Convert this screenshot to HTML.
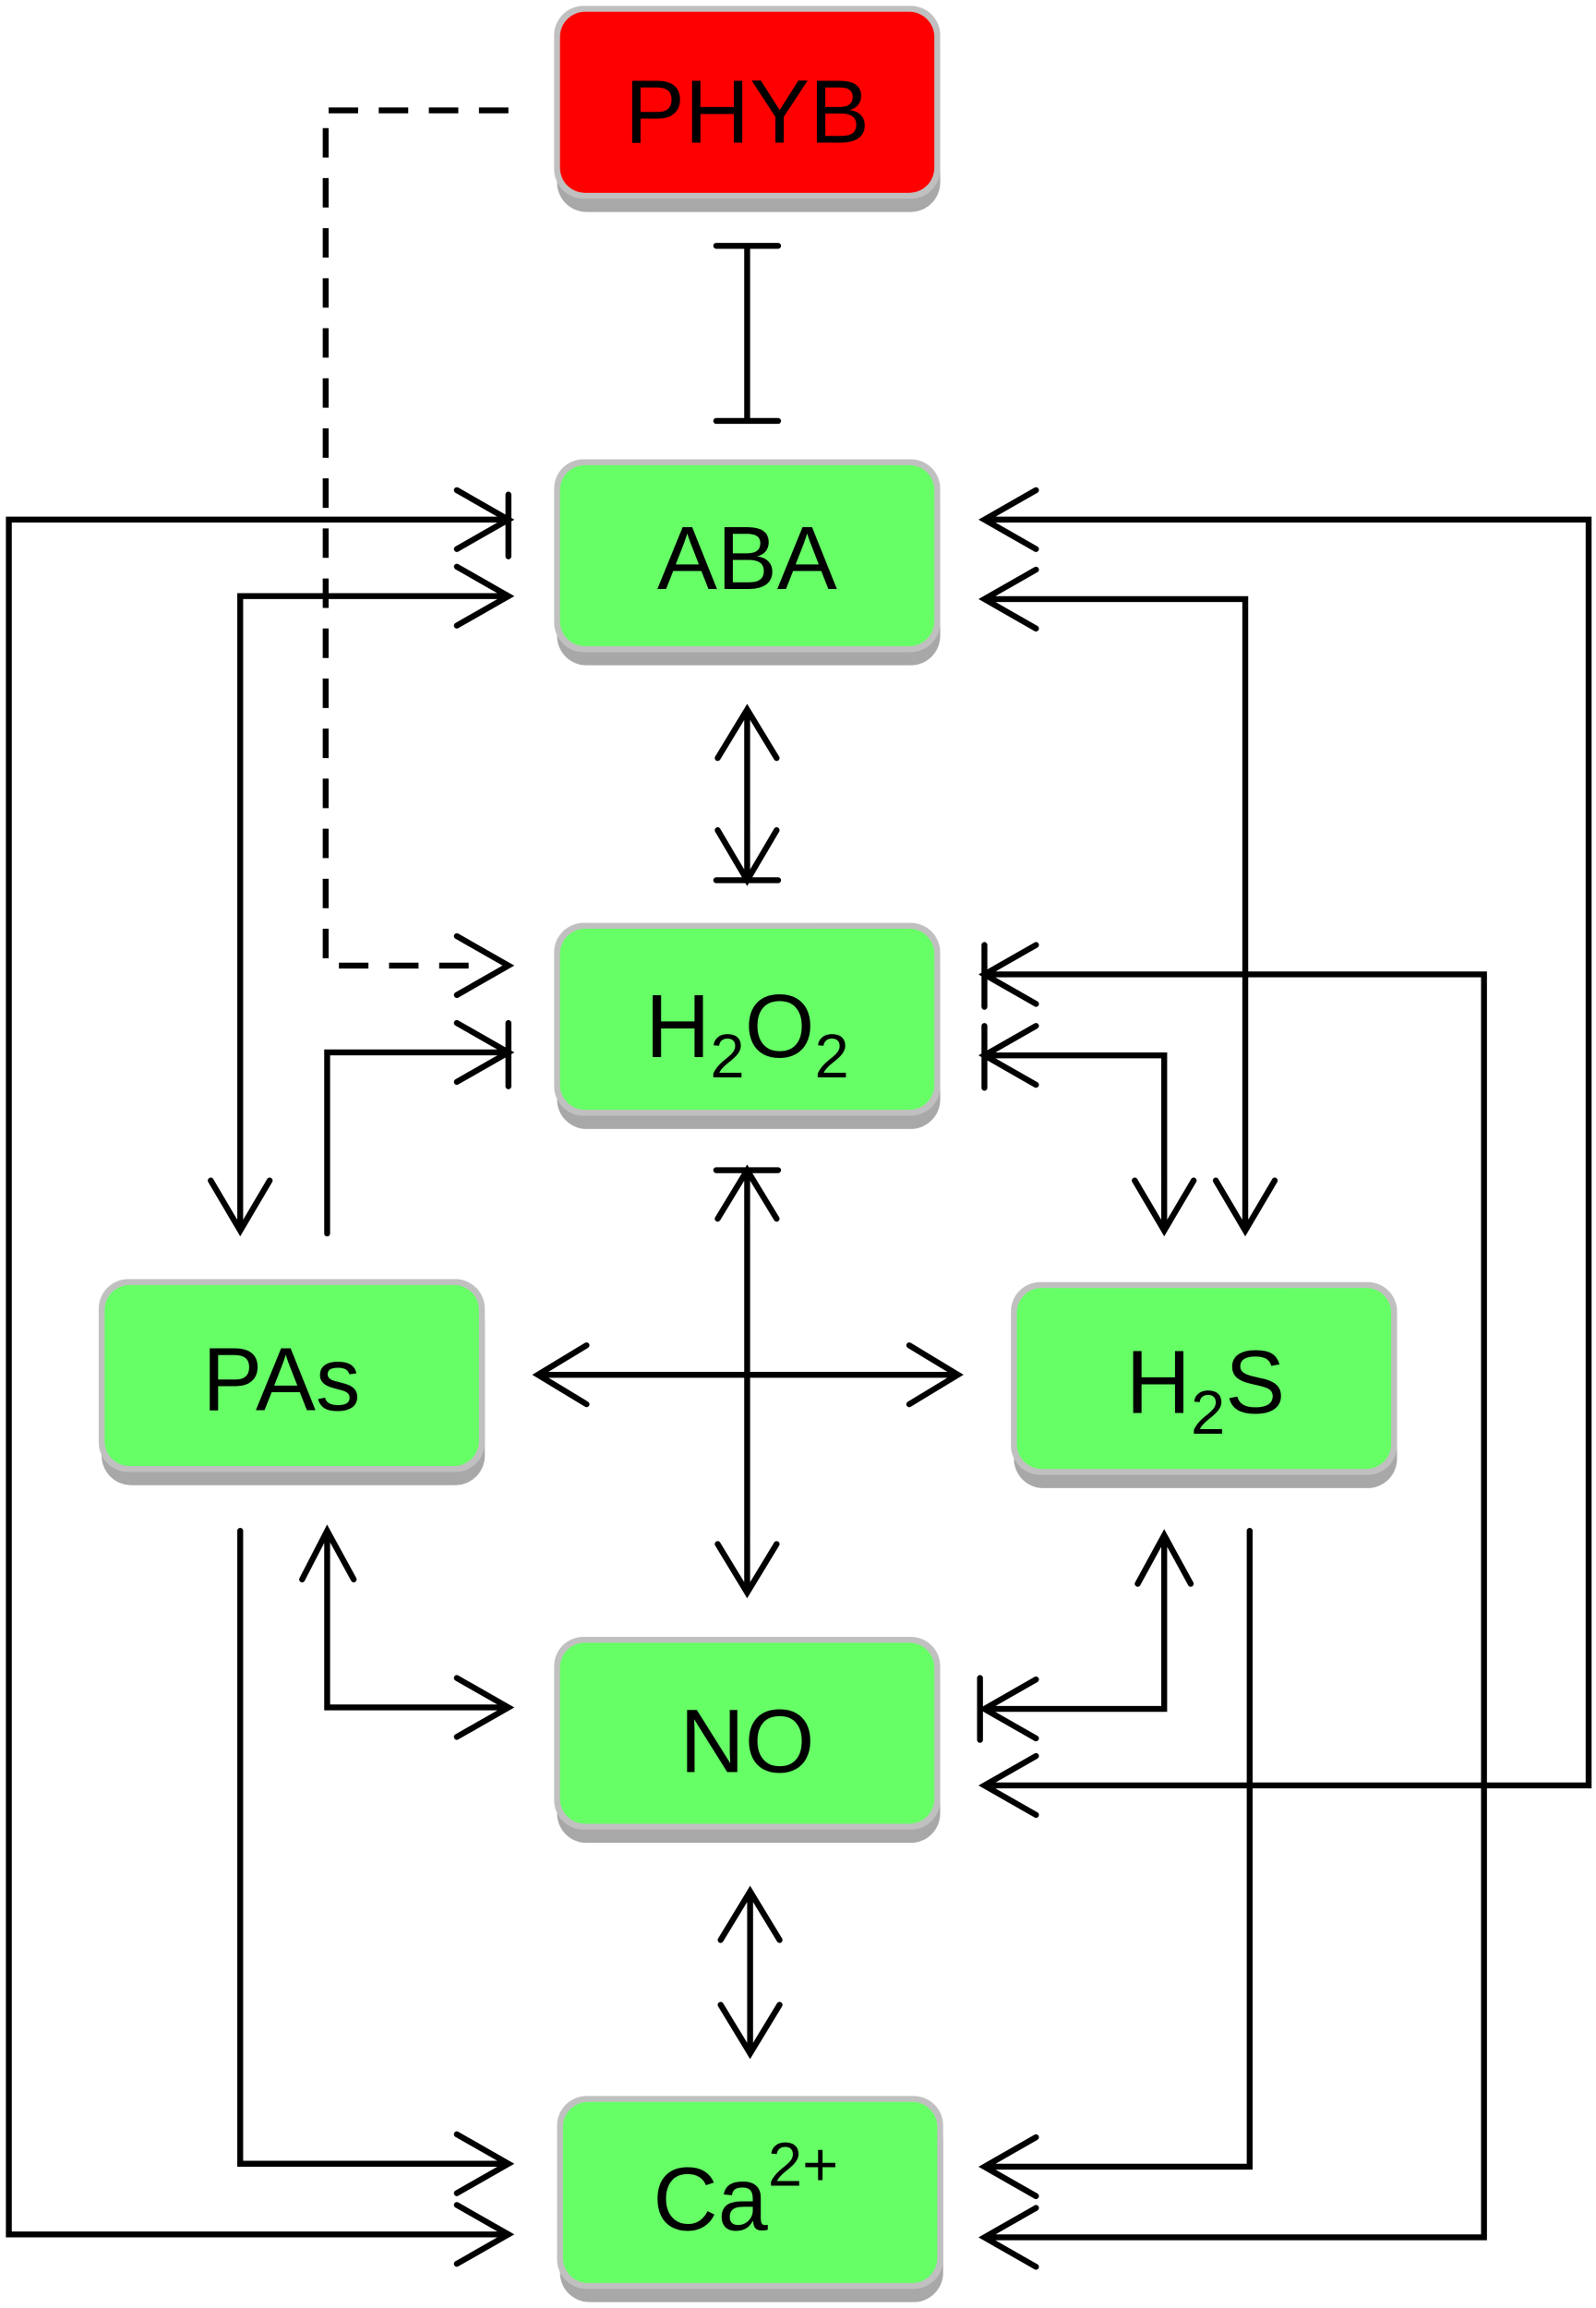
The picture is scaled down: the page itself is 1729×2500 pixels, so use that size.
<!DOCTYPE html>
<html><head><meta charset="utf-8"><style>
html,body{margin:0;padding:0;background:#fff;}
svg{display:block;}
text{font-family:"Liberation Sans",Arial,sans-serif;fill:#000;}
</style></head><body>
<svg width="1729" height="2500" viewBox="0 0 1083 1568" preserveAspectRatio="none" xmlns="http://www.w3.org/2000/svg">
<defs>
<g id="box"><rect x="2" y="10" width="260" height="130" rx="20" fill="#a8a8a8"/><rect x="0" y="0" width="262" height="131" rx="20" fill="#c0c0c0"/></g>
</defs>
<!-- boxes -->
<g transform="translate(376,4)"><use href="#box"/><rect x="4" y="4" width="254" height="123" rx="17" fill="#ff0000"/></g>
<g transform="translate(376,312)"><use href="#box"/><rect x="4" y="4" width="254" height="123" rx="17" fill="#66ff66"/></g>
<g transform="translate(376,627)"><use href="#box"/><rect x="4" y="4" width="254" height="123" rx="17" fill="#66ff66"/></g>
<g transform="translate(67,869)"><use href="#box"/><rect x="4" y="4" width="254" height="123" rx="17" fill="#66ff66"/></g>
<g transform="translate(686,871)"><use href="#box"/><rect x="4" y="4" width="254" height="123" rx="17" fill="#66ff66"/></g>
<g transform="translate(376,1112)"><use href="#box"/><rect x="4" y="4" width="254" height="123" rx="17" fill="#66ff66"/></g>
<g transform="translate(378,1424)"><use href="#box"/><rect x="4" y="4" width="254" height="123" rx="17" fill="#66ff66"/></g>
<!-- labels -->
<text x="507" y="97" font-size="61" text-anchor="middle">PHYB</text>
<text x="507" y="400" font-size="61" text-anchor="middle">ABA</text>
<text x="507" y="718" font-size="61" text-anchor="middle">H<tspan font-size="42" dy="14">2</tspan><tspan dy="-14">O</tspan><tspan font-size="42" dy="14">2</tspan></text>
<text x="191" y="958" font-size="61" text-anchor="middle">PAs</text>
<text x="818" y="960" font-size="61" text-anchor="middle">H<tspan font-size="42" dy="14">2</tspan><tspan dy="-14">S</tspan></text>
<text x="507" y="1204" font-size="61" text-anchor="middle">NO</text>
<text x="506" y="1515" font-size="61" text-anchor="middle">Ca<tspan font-size="42" dy="-30">2+</tspan></text>
<!-- connectors -->
<g fill="none" stroke="#000" stroke-width="4" stroke-linecap="round" stroke-linejoin="miter">
<path d="M345,75 H221 V656 H330" stroke-dasharray="20,14" stroke-linecap="butt"/>
<path d="M310,636 L345,656 L310,676"/>
<!-- PHYB-ABA inhibition -->
<path d="M507,167 V286 M486,167 H528 M486,286 H528"/>
<!-- left outer -->
<path d="M345,353 H6 V1518 H345"/>
<path d="M310,333 L345,353 L310,373 M345,336 V378"/>
<path d="M310,1498 L345,1518 L310,1538"/>
<!-- x=163 ABA to PAs -->
<path d="M345,405 H163 V835"/>
<path d="M310,385 L345,405 L310,425 M143,802 L163,836 L183,802"/>
<!-- ABA-H2O2 -->
<path d="M507,482 V598 M487,515 L507,482 L527,515 M487,564 L507,598 L527,564 M486,598 H528"/>
<!-- PAs -> H2O2 -->
<path d="M222,838 V715 H345 M310,695 L345,715 L310,735 M345,695 V738"/>
<!-- cross -->
<path d="M365,934 H650 M398,914 L365,934 L398,954 M617,914 L650,934 L617,954"/>
<path d="M507,795 V1082 M487,828 L507,795 L527,828 M486,795 H528 M487,1049 L507,1082 L527,1049"/>
<!-- PAs-NO -->
<path d="M222,1040 V1160 H345 M205,1073 L222,1040 L240,1073 M310,1140 L345,1160 L310,1180"/>
<!-- PAs-Ca -->
<path d="M163,1040 V1470 H345 M310,1450 L345,1470 L310,1490"/>
<!-- NO-Ca -->
<path d="M509,1285 V1395 M489,1318 L509,1285 L529,1318 M489,1362 L509,1395 L529,1362"/>
<!-- right outer ABA-NO -->
<path d="M668,353 H1078 V1213 H668 M703,333 L668,353 L703,373 M703,1193 L668,1213 L703,1233"/>
<!-- ABA-H2S -->
<path d="M668,407 H845 V835 M703,387 L668,407 L703,427 M825,802 L845,836 L865,802"/>
<!-- H2O2-Ca -->
<path d="M668,662 H1007 V1520 H668 M703,642 L668,662 L703,682 M668,642 V684 M703,1500 L668,1520 L703,1540"/>
<!-- H2O2-H2S -->
<path d="M668,717 H790 V835 M703,697 L668,717 L703,737 M668,697 V739 M770,802 L790,836 L810,802"/>
<!-- H2S-NO -->
<path d="M790,1043 V1161 H668 M772,1076 L790,1043 L808,1076 M703,1141 L668,1161 L703,1181 M665,1140 V1182"/>
<!-- H2S-Ca -->
<path d="M848,1040 V1472 H668 M703,1452 L668,1472 L703,1492"/>
</g>
</svg>
</body></html>
